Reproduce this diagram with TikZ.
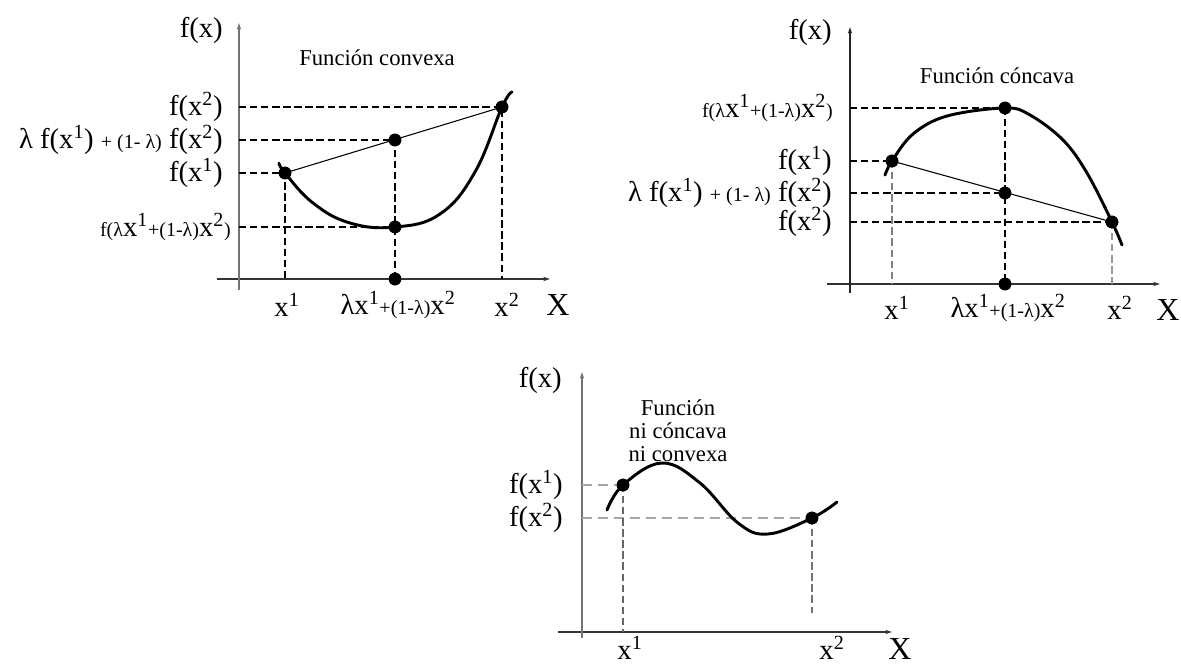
\documentclass[tikz,border=0pt]{standalone}
\usepackage{fontspec}
\setmainfont{Liberation Serif}
\usetikzlibrary{arrows.meta}
\newcommand{\smtxt}[1]{{\fontsize{15}{18}\selectfont #1}}

\begin{document}
\begin{tikzpicture}[x=0.75pt, y=-0.75pt,
    ax/.style={line width=1.1pt, draw=black!80, -{Stealth[length=5pt, width=3.2pt]}},
    dsh/.style={line width=0.9pt, dash pattern=on 5.5pt off 2.8pt},
    gdsh/.style={dsh, draw=black!40},
    ldsh/.style={line width=0.9pt, draw=black!35, dash pattern=on 7.5pt off 4.5pt},
    crv/.style={line width=2.2pt, line cap=round},
    chd/.style={line width=0.8pt},
    dot/.style={circle, fill=black, inner sep=0pt, minimum size=9.5pt},
    lbl/.style={font=\fontsize{21.5}{24}\selectfont, inner sep=0pt},
    ttl/.style={font=\fontsize{17}{17.25}\selectfont, inner sep=0pt, align=center},
    bigX/.style={font=\fontsize{24}{26}\selectfont, inner sep=0pt},
]
    \useasboundingbox (0,0) rectangle (1181,667);

    \coordinate (x1l) at (217,279);
    \coordinate (x1r) at (550,279);
    \coordinate (y1b) at (239,290);
    \coordinate (y1t) at (239,23);
    \coordinate (h1b) at (239,107);
    \coordinate (h1m) at (239,140);
    \coordinate (h1a) at (239,173);
    \coordinate (h1c) at (239,227);
    \coordinate (v1a) at (285,279);
    \coordinate (v1b) at (502,279);
    \node[dot] (p1a) at (285,173) {};
    \node[dot] (p1m) at (395,140) {};
    \node[dot] (p1c) at (395,227) {};
    \node[dot] (p1b) at (502,107) {};
    \node[dot] (p1x) at (395,279) {};
    \draw[ax] (x1l) -- (x1r);
    \draw[ax, draw=black!55] (y1b) -- (y1t);
    \draw[dsh] (h1b) -- (p1b.center) -- (v1b);
    \draw[dsh] (h1m) -- (p1m.center) -- (p1x.center);
    \draw[dsh] (h1a) -- (p1a.center) -- (v1a);
    \draw[dsh] (h1c) -- (p1c.center);
    \draw[chd] (p1a.center) -- (p1b.center);
    \draw[crv] plot[smooth, tension=0.7] coordinates {(279,163) (p1a.center) (313,203) (350,223) (p1c.center) (440,214) (475,172) (p1b.center) (512,92)};
    \foreach \p in {p1a, p1m, p1c, p1b, p1x} \fill (\p) circle (4.75pt);
    \node[lbl, anchor=east] (f1) at (223,30) {f(x)};
    \node[ttl] (t1) at (377,58) {Función convexa};
    \node[lbl, anchor=east] (l1b) at (223,107) {f(x\textsuperscript{2})};
    \node[lbl, anchor=east] (l1m) at (223,140) {λ f(x\textsuperscript{1}) \smtxt{+ (1- λ)} f(x\textsuperscript{2})};
    \node[lbl, anchor=east] (l1a) at (223,173) {f(x\textsuperscript{1})};
    \node[lbl, anchor=east] (l1c) at (231,227) {\smtxt{f(λ}x\textsuperscript{1}\smtxt{+(1-λ)}x\textsuperscript{2}\smtxt{)}};
    \node[lbl] (b1a) at (287,305) {x\textsuperscript{1}};
    \node[lbl] (b1m) at (398,305) {λx\textsuperscript{1}\smtxt{+(1-λ)}x\textsuperscript{2}};
    \node[lbl] (b1b) at (507,305) {x\textsuperscript{2}};
    \node[bigX] (X1) at (558,305) {X};

    \coordinate (x2l) at (827,284);
    \coordinate (x2r) at (1160,284);
    \coordinate (y2b) at (850,293);
    \coordinate (y2t) at (850,27);
    \coordinate (h2t) at (850,108);
    \coordinate (h2a) at (850,161);
    \coordinate (h2m) at (850,193);
    \coordinate (h2b) at (850,222);
    \coordinate (v2a) at (892,284);
    \coordinate (v2b) at (1112,284);
    \node[dot] (p2a) at (892,161) {};
    \node[dot] (p2t) at (1005,108) {};
    \node[dot] (p2m) at (1005,193) {};
    \node[dot] (p2b) at (1112,222) {};
    \node[dot] (p2x) at (1005,284) {};
    \draw[ax] (x2l) -- (x2r);
    \draw[ax, draw=black!85] (y2b) -- (y2t);
    \draw[dsh] (h2t) -- (p2t.center) -- (p2x.center);
    \draw[dsh] (h2a) -- (p2a.center);
    \draw[dsh] (h2m) -- (p2m.center);
    \draw[dsh] (h2b) -- (p2b.center);
    \draw[gdsh, draw=black!50] (p2a.center) -- (v2a);
    \draw[gdsh] (p2b.center) -- (v2b);
    \draw[chd] (p2a.center) -- (p2b.center);
    \draw[crv] plot[smooth, tension=0.6] coordinates {(885,175) (p2a.center) (913,134) (947,116) (p2t.center) (1030,115) (1063,140) (1087,173) (p2b.center) (1122,245)};
    \foreach \p in {p2a, p2t, p2m, p2b, p2x} \fill (\p) circle (4.75pt);
    \node[lbl, anchor=east] (f2) at (832,32) {f(x)};
    \node[ttl] (t2) at (997,76) {Función cóncava};
    \node[lbl, anchor=east] (l2t) at (833,108) {\smtxt{f(λ}x\textsuperscript{1}\smtxt{+(1-λ)}x\textsuperscript{2}\smtxt{)}};
    \node[lbl, anchor=east] (l2a) at (832,161) {f(x\textsuperscript{1})};
    \node[lbl, anchor=east] (l2m) at (832,193) {λ f(x\textsuperscript{1}) \smtxt{+ (1- λ)} f(x\textsuperscript{2})};
    \node[lbl, anchor=east] (l2b) at (832,222) {f(x\textsuperscript{2})};
    \node[lbl] (b2a) at (897,308) {x\textsuperscript{1}};
    \node[lbl] (b2m) at (1008,308) {λx\textsuperscript{1}\smtxt{+(1-λ)}x\textsuperscript{2}};
    \node[lbl] (b2b) at (1120,308) {x\textsuperscript{2}};
    \node[bigX] (X2) at (1168,310) {X};

    \coordinate (x3l) at (558,632);
    \coordinate (x3r) at (892,632);
    \coordinate (y3b) at (582,638);
    \coordinate (y3t) at (582,372);
    \coordinate (h3a) at (582,485);
    \coordinate (h3b) at (582,518);
    \coordinate (v3a) at (623,632);
    \coordinate (v3b) at (812,613);
    \node[dot] (p3a) at (623,485) {};
    \node[dot] (p3b) at (812,518) {};
    \draw[ax] (x3l) -- (x3r);
    \draw[ax, draw=black!55] (y3b) -- (y3t);
    \draw[ldsh] (h3a) -- (p3a.center);
    \draw[ldsh] (h3b) -- (p3b.center);
    \draw[gdsh, draw=black!60] (p3a.center) -- (v3a);
    \draw[gdsh, draw=black!55] (p3b.center) -- (v3b);
    \draw[crv] plot[smooth, tension=0.65] coordinates {(607,510) (p3a.center) (662,463) (700,483) (738,523) (768,534) (p3b.center) (837,502)};
    \foreach \p in {p3a, p3b} \fill (\p) circle (4.75pt);
    \node[lbl, anchor=east] (f3) at (562,380) {f(x)};
    \node[ttl] (t3) at (678,431) {Función\\ni cóncava\\ni convexa};
    \node[lbl, anchor=east] (l3a) at (563,485) {f(x\textsuperscript{1})};
    \node[lbl, anchor=east] (l3b) at (563,518) {f(x\textsuperscript{2})};
    \node[lbl] (b3a) at (630,648) {x\textsuperscript{1}};
    \node[lbl] (b3b) at (832,648) {x\textsuperscript{2}};
    \node[bigX] (X3) at (900,649) {X};
\end{tikzpicture}
\end{document}
